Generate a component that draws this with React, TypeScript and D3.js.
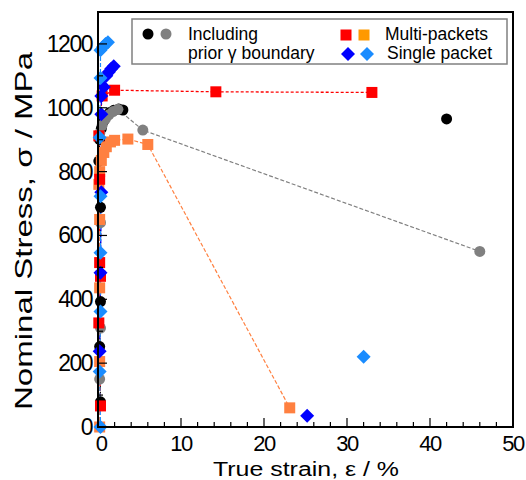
import React from 'react';
import * as d3 from 'd3';

// strain (%) / stress (MPa)
const blackPts = [[0.3, 79], [0.2, 252], [0.3, 393], [0.3, 688], [0.1, 833], [0.2, 900], [0.4, 935], [0.7, 960], [1.0, 975], [1.4, 985], [1.9, 992], [2.5, 996], [3.0, 993]];
const blackFracture = [42, 965];
const grayPts = [[0.2, 150], [0.3, 310], [0.3, 640], [0.2, 920], [0.5, 945], [0.9, 965], [1.3, 978], [1.8, 988], [2.4, 995], [5.4, 930], [46, 550]];
const redPts = [[0.3, 66], [0.1, 326], [0.3, 472], [0.2, 515], [0.2, 776], [0.1, 912], [0.5, 1037], [2.0, 1055], [14.2, 1050], [33, 1048]];
const orangePts = [[0.2, 0], [0.2, 205], [0.2, 436], [0.2, 650], [0.1, 760], [0.2, 800], [0.4, 835], [0.7, 860], [1.0, 878], [1.5, 893], [2.0, 898], [3.6, 902], [6.0, 885], [23.1, 60]];
const bluePts = [[0.2, 237], [0.3, 483], [0.4, 735], [0.4, 980], [0.4, 1037], [0.7, 1065], [1.0, 1100], [1.3, 1112], [1.6, 1122], [1.9, 1130]];
const blueFracture = [25.2, 35];
const lightBluePts = [[0.3, 0], [0.2, 174], [0.3, 362], [0.3, 546], [0.3, 723], [0.2, 907], [0.3, 1093], [0.3, 1180], [0.6, 1190], [0.9, 1200], [1.2, 1205]];
const lightBlueFracture = [32, 220];

const xTicks = [0, 10, 20, 30, 40, 50];
const yTicks = [0, 200, 400, 600, 800, 1000, 1200];

const W = 526, H = 480;
const margin = { left: 98, right: 13, top: 12, bottom: 53 };
const FONT = '"Liberation Sans", Arial, sans-serif';

const x = d3.scaleLinear().domain([0, 50]).range([margin.left, W - margin.right]);
const y = d3.scaleLinear().domain([0, 1300]).range([H - margin.bottom, margin.top]);

const C = {
  black: '#000000', gray: '#808080', red: '#ff0000', orange: '#ff8040',
  blue: '#0000ff', light: '#1a8cff',
};

const line = d3.line<number[]>().x(d => x(d[0])).y(d => y(d[1]));

const Circle = ({ cx, cy, fill }) => <circle cx={cx} cy={cy} r={5.5} fill={fill} />;
const Square = ({ cx, cy, fill }) => <rect x={cx - 5.5} y={cy - 5.5} width={11} height={11} fill={fill} />;
const Diamond = ({ cx, cy, fill }) => (
  <path d={`M${cx},${cy - 7}L${cx + 7},${cy}L${cx},${cy + 7}L${cx - 7},${cy}Z`} fill={fill} />
);

const App = () => {
  const minorX = d3.range(0, 51, 2);
  const minorY = d3.range(0, 1301, 100);
  const x0 = margin.left, x1 = W - margin.right, y0 = H - margin.bottom, y1 = margin.top;

  const pts = (data, Mark, fill) => data.map((d, i) => <Mark key={i} cx={x(d[0])} cy={y(d[1])} fill={fill} />);

  return (
    <svg width={W} height={H} style={{ position: 'absolute', left: 0, top: 0 }} fontFamily={FONT}>
      <rect width={W} height={H} fill="#fff" />

      {/* connecting lines */}
      <path d={line(blackPts)} fill="none" stroke={C.black} strokeWidth={1.2} strokeDasharray="4,2" />
      <path d={line(grayPts)} fill="none" stroke={C.gray} strokeWidth={1.2} strokeDasharray="4,2" />
      <path d={line(redPts)} fill="none" stroke={C.red} strokeWidth={1.3} strokeDasharray="3,2" />
      <path d={line(orangePts)} fill="none" stroke={C.orange} strokeWidth={1.2} strokeDasharray="4,2" />
      <path d={line(bluePts)} fill="none" stroke={C.blue} strokeWidth={1.2} strokeDasharray="4,2" />
      <path d={line(lightBluePts)} fill="none" stroke={C.light} strokeWidth={1.2} strokeDasharray="4,2" />

      {/* markers */}
      {pts(blackPts, Circle, C.black)}
      {pts([blackFracture], Circle, C.black)}
      {pts(grayPts, Circle, C.gray)}
      {pts(orangePts, Square, C.orange)}
      {pts(redPts, Square, C.red)}
      {pts(bluePts, Diamond, C.blue)}
      {pts([blueFracture], Diamond, C.blue)}
      {pts(lightBluePts, Diamond, C.light)}
      {pts([lightBlueFracture], Diamond, C.light)}

      {/* frame */}
      <rect x={x0} y={y1} width={x1 - x0} height={y0 - y1} fill="none" stroke="#000" strokeWidth={2} />

      {/* x ticks */}
      {minorX.map(v => (
        <line key={'mx' + v} x1={x(v)} x2={x(v)} y1={y0} y2={y0 - (v % 10 === 0 ? 9 : 5)} stroke="#000" strokeWidth={1.2} />
      ))}
      {xTicks.map(v => (
        <text key={'tx' + v} x={x(v) + (v === 0 ? 3 : 0)} y={y0 + 24} textAnchor="middle" fontSize={22} letterSpacing={-1.5}>{v}</text>
      ))}

      {/* y ticks */}
      {minorY.map(v => (
        <line key={'my' + v} x1={x0} x2={x0 + (v % 200 === 0 ? 9 : 5)} y1={y(v)} y2={y(v)} stroke="#000" strokeWidth={1.2} />
      ))}
      {yTicks.map(v => (
        <text key={'ty' + v} x={x0 - 6} y={y(v) + 8} textAnchor="end" fontSize={23} letterSpacing={-1.5}>{v}</text>
      ))}

      {/* axis titles */}
      <text x={306} y={476} textAnchor="middle" fontSize={20} textLength={186} lengthAdjust="spacingAndGlyphs">True strain, ε / %</text>
      <text transform={`translate(32, 231) rotate(-90)`} textAnchor="middle" fontSize={24} textLength={358} lengthAdjust="spacingAndGlyphs">Nominal Stress, σ / MPa</text>

      {/* legend */}
      <rect x={132} y={19} width={375} height={45} fill="#fff" stroke="#808080" strokeWidth={1.5} />
      <Circle cx={148} cy={34} fill={C.black} />
      <Circle cx={166} cy={34} fill={C.gray} />
      <text x={188} y={40} fontSize={17.5}>Including</text>
      <text x={188} y={59} fontSize={17.5}>prior γ boundary</text>
      <Square cx={346} cy={35} fill={C.red} />
      <Square cx={364} cy={35} fill="#ff9900" />
      <text x={385} y={40} fontSize={17.5}>Multi-packets</text>
      <Diamond cx={348} cy={54} fill={C.blue} />
      <Diamond cx={367} cy={54} fill={C.light} />
      <text x={387} y={59} fontSize={17.5}>Single packet</text>
    </svg>
  );
};

export default App;
